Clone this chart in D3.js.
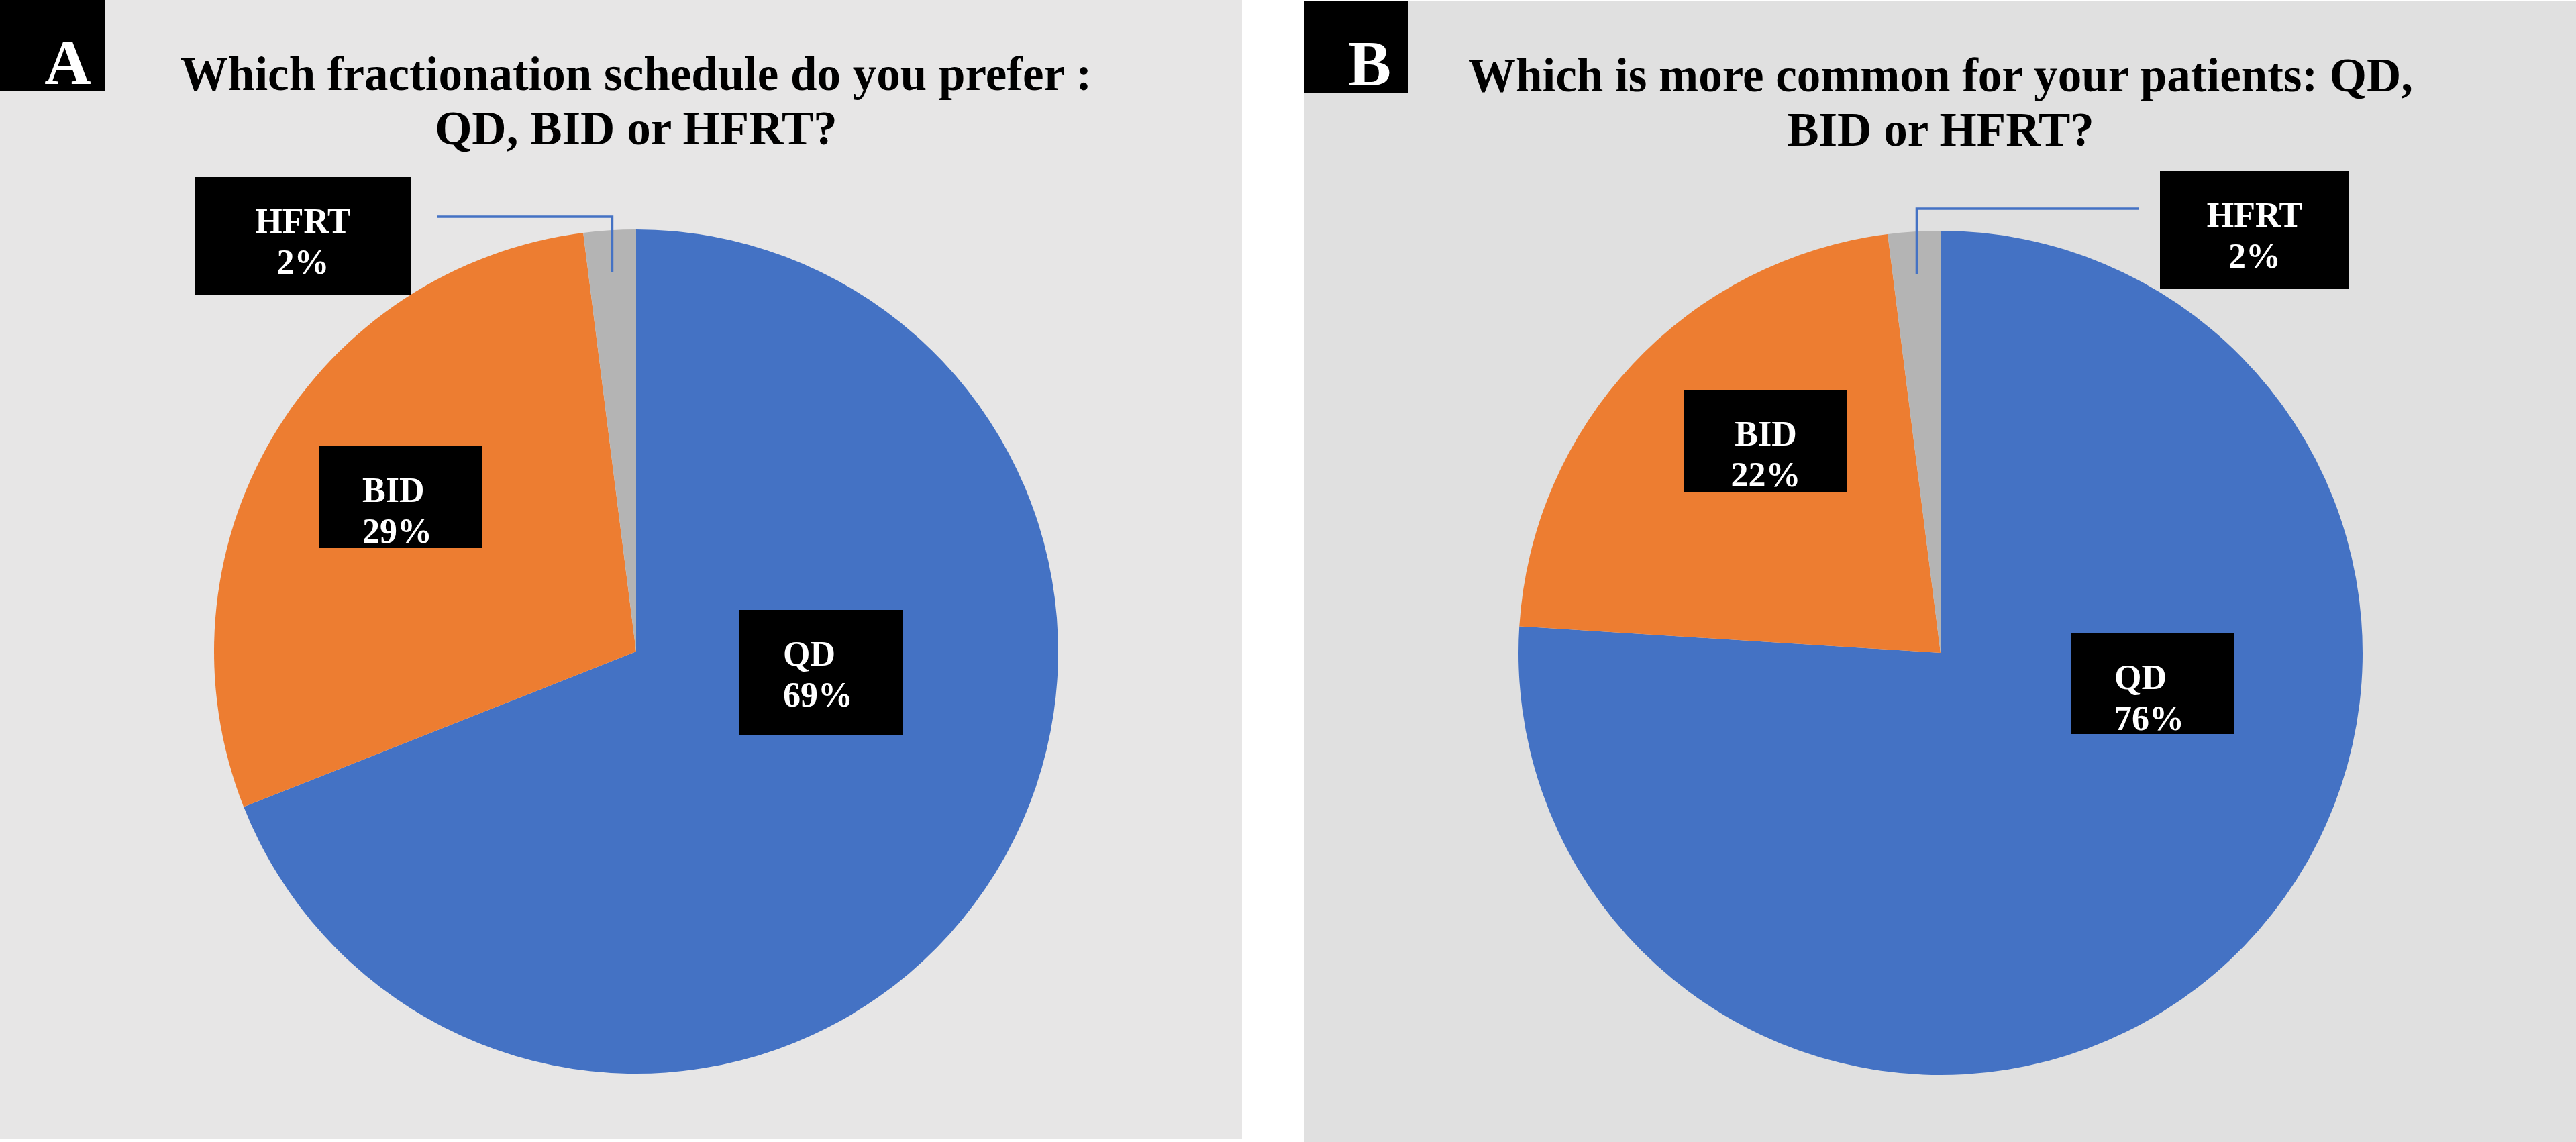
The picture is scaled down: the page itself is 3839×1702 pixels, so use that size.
<!DOCTYPE html>
<html>
<head>
<meta charset="utf-8">
<script src="https://cdn.jsdelivr.net/npm/d3@7"></script>
<style>
  body { margin: 0; background: #fff; }
  svg { display: block; }
  text { font-family: "Times New Roman", "Liberation Serif", serif; font-weight: bold; }
</style>
</head>
<body>
<svg id="chart" width="3839" height="1702"></svg>
<script>
// data
const categories = ["QD", "BID", "HFRT"];
const valuesA = [69, 29, 2];
const valuesB = [76, 22, 2];
const sliceColors = ["#4472c4", "#ed7d31", "#b4b4b4"];
const panelLetters = ["A", "B"];
const titleA = ["Which fractionation schedule do you prefer :", "QD, BID or HFRT?"];
const titleB = ["Which is more common for your patients: QD,", "BID or HFRT?"];

// layout of each panel (pixels), label boxes relative to pie centre
const panels = [
  {
    letter: panelLetters[0], values: valuesA, title: titleA,
    bg: "#e7e6e6", x: 0, y: 0, w: 1851, h: 1697,
    cx: 948, cy: 971, r: 629,
    letterBox: { x: 0, y: 0, w: 156, h: 136, tx: 101 },
    labels: [
      { dx: 154, dy: -62, w: 244, h: 187, align: "start" },
      { dx: -473, dy: -306, w: 244, h: 151, align: "start" },
      { dx: -658, dy: -707, w: 323, h: 175, align: "middle" }
    ],
    leader: { fromX: -296, y: -648 }
  },
  {
    letter: panelLetters[1], values: valuesB, title: titleB,
    bg: "#e0e0e0", x: 1944, y: 2, w: 1895, h: 1700,
    cx: 2892, cy: 973, r: 629,
    letterBox: { x: 1943, y: 2, w: 156, h: 137, tx: 2041 },
    labels: [
      { dx: 194, dy: -29, w: 243, h: 150, align: "start" },
      { dx: -382, dy: -392, w: 243, h: 152, align: "middle" },
      { dx: 327, dy: -718, w: 282, h: 176, align: "middle" }
    ],
    leader: { fromX: 295, y: -662 }
  }
];

const svg = d3.select("#chart");
const pie = d3.pie().sort(null).value(d => d);

function drawPanel(p) {
  const g = svg.append("g");

  g.append("rect")
    .attr("x", p.x).attr("y", p.y)
    .attr("width", p.w).attr("height", p.h)
    .attr("fill", p.bg);

  // panel letter
  g.append("rect")
    .attr("x", p.letterBox.x).attr("y", p.letterBox.y)
    .attr("width", p.letterBox.w).attr("height", p.letterBox.h)
    .attr("fill", "#000");
  g.append("text")
    .attr("x", p.letterBox.tx).attr("y", p.letterBox.y + 125)
    .attr("text-anchor", "middle")
    .attr("font-size", 96)
    .attr("fill", "#fff")
    .text(p.letter);

  // title, two lines centred over the pie
  g.selectAll("text.title")
    .data(p.title)
    .enter()
    .append("text")
    .attr("class", "title")
    .attr("x", p.cx)
    .attr("y", (d, i) => p.y + 134 + i * 81)
    .attr("text-anchor", "middle")
    .attr("font-size", 71)
    .attr("fill", "#000")
    .text(d => d);

  const arcs = pie(p.values);
  const arc = d3.arc().innerRadius(0).outerRadius(p.r);
  const pieG = g.append("g").attr("transform", `translate(${p.cx},${p.cy})`);

  pieG.selectAll("path")
    .data(arcs)
    .enter()
    .append("path")
    .attr("d", arc)
    .attr("fill", (d, i) => sliceColors[i]);

  // leader line for the small slice
  const small = arcs[2];
  const inner = d3.arc().innerRadius(p.r * 0.9).outerRadius(p.r * 0.9).centroid(small);
  pieG.append("path")
    .attr("d", d3.line()([[p.leader.fromX, p.leader.y], [inner[0], p.leader.y], [inner[0], inner[1]]]))
    .attr("fill", "none")
    .attr("stroke", "#4472c4")
    .attr("stroke-width", 3.5);

  // data labels
  arcs.forEach((a, i) => {
    const L = p.labels[i];
    const lx = L.dx, ly = L.dy;
    pieG.append("rect")
      .attr("x", lx).attr("y", ly)
      .attr("width", L.w).attr("height", L.h)
      .attr("fill", "#000");
    const tx = L.align === "middle" ? lx + L.w / 2 : lx + 65;
    const lines = [categories[i], a.data + "%"];
    pieG.selectAll(null)
      .data(lines)
      .enter()
      .append("text")
      .attr("x", tx)
      .attr("y", (d, j) => ly + 83 + j * 61)
      .attr("text-anchor", L.align)
      .attr("font-size", 52)
      .attr("fill", "#fff")
      .text(d => d);
  });
}

panels.forEach(drawPanel);
</script>
</body>
</html>
